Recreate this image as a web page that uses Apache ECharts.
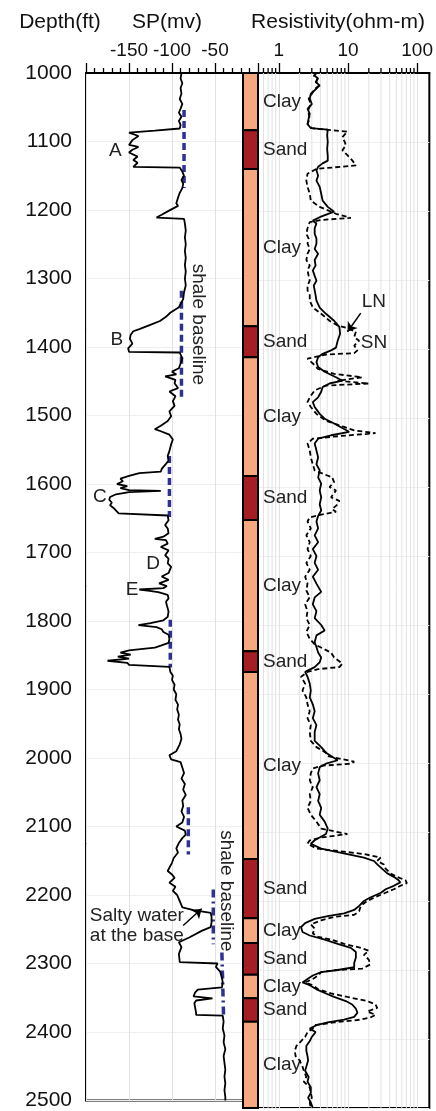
<!DOCTYPE html>
<html>
<head>
<meta charset="utf-8">
<script src="https://cdn.jsdelivr.net/npm/echarts@6/dist/echarts.min.js"></script>
<style>
  html, body { margin: 0; padding: 0; background: #fff; }
  #chart { width: 436px; height: 1111px; }
</style>
</head>
<body>
<div id="chart"></div>
<script>
const FONT = '"Liberation Sans", Arial, Helvetica, sans-serif';

// Depth axis (ft)
const depthMin = 1000, depthMax = 2500, depthStep = 100;
// SP axis (mV)
const spMin = -200, spMax = 0, spStep = 50;
const spTickLabels = [-150, -100, -50];
// Resistivity axis (ohm-m, log)
const resMin = 0.5, resMax = 150;
const resTickLabels = [1, 10, 100];
const resMinorTicks = [0.6, 0.7, 0.8, 0.9, 2, 3, 4, 5, 6, 7, 8, 9, 20, 30, 40, 50, 60, 70, 80, 90];

// Lithology column: [top ft, base ft, rock]
const lithology = [
  [1000, 1083, 'Clay'], [1083, 1139, 'Sand'], [1139, 1367, 'Clay'], [1367, 1412, 'Sand'],
  [1412, 1584, 'Clay'], [1584, 1648, 'Sand'], [1648, 1838, 'Clay'], [1838, 1868, 'Sand'],
  [1868, 2139, 'Clay'], [2139, 2225, 'Sand'], [2225, 2261, 'Clay'], [2261, 2307, 'Sand'],
  [2307, 2341, 'Clay'], [2341, 2375, 'Sand'], [2375, 2500, 'Clay']
];
const rockColors = { Clay: '#F6A87F', Sand: '#A51E23' };

// SP log: [depth ft, mV]
const spLog = [
  [1000,-89],[1008,-90],[1015,-88],[1022,-90],[1030,-89],[1038,-91],[1045,-88],[1052,-90],
  [1058,-92],[1064,-89],[1070,-92],[1076,-90],[1081,-91],[1084,-120],[1087,-150],[1092,-139],
  [1098,-146],[1105,-150],[1108,-139],[1112,-146],[1116,-150],[1122,-140],[1127,-145],[1131,-140],
  [1137,-145],[1138,-91],[1144,-88],[1150,-86],[1156,-89],[1162,-87],[1168,-88],[1175,-91],
  [1182,-93],[1190,-95],[1194,-93],[1202,-105],[1207,-112],[1211,-118],[1213,-86],[1220,-85],
  [1230,-84],[1240,-85],[1250,-84],[1260,-85],[1270,-84],[1280,-85],[1290,-84],[1300,-85],
  [1310,-84],[1320,-86],[1330,-87],[1342,-92],[1350,-102],[1356,-107],[1362,-114],[1368,-126],
  [1374,-138],[1377,-145],[1382,-148],[1388,-149],[1395,-146],[1402,-151],[1407,-150],[1408,-91],
  [1417,-88],[1424,-90],[1431,-92],[1436,-100],[1440,-95],[1443,-108],[1448,-96],[1453,-97],
  [1460,-93],[1465,-103],[1472,-96],[1479,-99],[1486,-97],[1494,-103],[1501,-101],[1508,-105],
  [1515,-113],[1520,-120],[1523,-113],[1528,-103],[1535,-99],[1542,-101],[1552,-103],[1559,-105],
  [1566,-104],[1572,-108],[1578,-112],[1582,-113],[1584,-138],[1588,-150],[1592,-160],[1596,-157],
  [1600,-164],[1603,-152],[1606,-160],[1609,-150],[1610,-113],[1612,-150],[1615,-165],[1619,-172],
  [1623,-173],[1627,-170],[1631,-172],[1635,-168],[1639,-165],[1643,-162],[1645,-162],[1646,-105],
  [1653,-104],[1660,-108],[1665,-105],[1672,-104],[1677,-110],[1680,-120],[1682,-107],[1687,-105],
  [1692,-113],[1697,-104],[1704,-108],[1709,-104],[1716,-105],[1721,-101],[1730,-104],[1735,-112],
  [1740,-104],[1745,-115],[1749,-106],[1752,-110],[1754,-138],[1756,-126],[1758,-116],[1762,-105],
  [1767,-104],[1772,-107],[1777,-106],[1786,-104],[1794,-105],[1799,-110],[1803,-125],[1806,-139],
  [1809,-118],[1812,-112],[1816,-110],[1820,-104],[1826,-103],[1832,-104],[1836,-113],[1839,-120],
  [1841,-118],[1843,-150],[1846,-160],[1849,-148],[1852,-163],[1855,-150],[1858,-175],[1861,-152],
  [1864,-150],[1866,-150],[1867,-103],[1874,-102],[1880,-99],[1886,-100],[1893,-97],[1900,-98],
  [1907,-95],[1915,-96],[1922,-93],[1929,-94],[1937,-92],[1944,-93],[1951,-91],[1958,-92],
  [1965,-90],[1972,-89],[1980,-91],[1990,-95],[1996,-103],[2002,-101],[2006,-90],[2014,-88],
  [2022,-86],[2030,-89],[2038,-85],[2046,-87],[2054,-84],[2062,-88],[2070,-87],[2078,-89],
  [2086,-86],[2094,-88],[2100,-95],[2106,-85],[2112,-84],[2117,-88],[2124,-92],[2132,-95],
  [2138,-93],[2146,-98],[2153,-100],[2160,-103],[2165,-105],[2170,-100],[2175,-97],[2182,-103],
  [2188,-96],[2194,-99],[2200,-94],[2206,-92],[2212,-90],[2218,-88],[2222,-75],[2226,-55],
  [2232,-54],[2240,-54],[2247,-55],[2252,-65],[2262,-80],[2269,-92],[2276,-89],[2286,-92],
  [2298,-91],[2300,-47],[2305,-49],[2312,-44],[2320,-42],[2328,-41],[2335,-42],[2338,-70],
  [2342,-73],[2348,-75],[2351,-53],[2354,-72],[2358,-74],[2365,-73],[2372,-72],[2375,-72],
  [2376,-41],[2385,-40],[2395,-41],[2405,-39],[2415,-40],[2425,-38],[2435,-40],[2445,-39],
  [2455,-38],[2465,-39],[2475,-38],[2485,-39],[2495,-38],[2500,-38]
];

// Long normal resistivity: [depth ft, ohm-m]
const resLN = [
  [1000,3.4],[1004,3.3],[1008,3.7],[1013,3.4],[1018,3.9],[1025,3.3],[1030,2.9],[1037,2.8],
  [1045,3.0],[1052,2.6],[1059,2.8],[1066,2.7],[1074,2.6],[1080,2.9],[1082,5.1],[1090,5.0],
  [1100,5.1],[1110,5.0],[1120,5.1],[1127,5.1],[1131,4.3],[1136,3.7],[1141,3.5],[1149,3.7],
  [1156,3.5],[1165,3.9],[1175,4.1],[1185,4.3],[1194,5.1],[1201,6.3],[1209,3.9],[1214,3.1],
  [1218,3.5],[1225,3.3],[1233,3.3],[1240,3.5],[1247,3.5],[1255,3.3],[1262,3.7],[1271,3.3],
  [1279,3.4],[1286,3.1],[1294,3.3],[1301,3.5],[1308,3.2],[1315,3.3],[1322,3.4],[1330,3.5],
  [1340,3.9],[1349,4.8],[1359,6.3],[1368,7.5],[1378,7.7],[1388,7.1],[1398,6.7],[1402,5.7],
  [1407,4.3],[1412,3.7],[1419,3.5],[1426,3.7],[1433,4.6],[1441,6.7],[1446,8.3],[1450,5.4],
  [1455,4.3],[1462,4.1],[1470,3.7],[1477,3.1],[1484,3.3],[1494,3.9],[1501,4.6],[1508,6.3],
  [1516,8.8],[1520,10.4],[1525,5.7],[1530,3.7],[1537,3.3],[1547,3.5],[1557,3.7],[1567,3.5],
  [1576,3.9],[1586,3.7],[1595,4.1],[1605,3.9],[1615,4.1],[1625,3.9],[1634,4.1],[1642,3.7],
  [1650,3.5],[1660,3.7],[1670,3.3],[1680,3.7],[1690,3.1],[1700,3.5],[1710,3.3],[1720,3.7],
  [1730,3.1],[1740,3.5],[1752,4.1],[1760,3.3],[1770,3.1],[1780,3.5],[1790,3.3],[1800,4.1],
  [1808,4.6],[1815,3.5],[1825,3.3],[1832,3.5],[1840,3.7],[1847,4.1],[1854,3.9],[1861,3.3],
  [1868,2.4],[1875,2.6],[1885,2.8],[1895,2.9],[1905,2.8],[1915,3.1],[1925,3.3],[1935,3.1],
  [1945,3.5],[1955,3.3],[1968,3.3],[1977,4.1],[1985,4.8],[1990,5.7],[1996,7.1],[2001,4.8],
  [2006,3.9],[2015,3.7],[2025,3.9],[2035,3.5],[2045,3.9],[2055,3.7],[2065,4.1],[2075,3.9],
  [2085,4.6],[2095,5.1],[2103,4.8],[2112,3.3],[2117,2.9],[2124,4.1],[2128,6.3],[2132,9.8],
  [2137,17],[2142,23.7],[2147,26.5],[2153,31],[2160,37],[2165,46],[2170,54],[2173,57],
  [2178,46],[2183,35],[2188,30],[2195,21],[2200,17],[2207,14.5],[2213,12.3],[2218,8.8],
  [2222,5.1],[2226,3.3],[2232,2.4],[2238,2.1],[2245,2.2],[2250,2.8],[2256,4.6],[2262,7.1],
  [2268,11],[2274,13],[2282,13],[2290,12.3],[2296,12.3],[2300,7.1],[2303,4.1],[2308,3.1],
  [2313,2.6],[2318,2.2],[2322,2.8],[2328,3.5],[2334,4.8],[2339,6.3],[2345,9.3],[2350,11.5],
  [2356,13],[2362,13.7],[2368,12.3],[2372,8.8],[2376,5.1],[2380,3.5],[2385,2.8],[2390,3.4],
  [2397,3.0],[2403,2.8],[2410,2.5],[2417,2.5],[2425,2.6],[2431,2.65],[2440,2.5],[2446,2.4],
  [2455,2.7],[2462,2.6],[2470,2.9],[2478,2.9],[2485,2.65],[2492,2.9],[2500,3.1]
];

// Short normal resistivity: [depth ft, ohm-m]
const resSN = [
  [1000,3.5],[1004,3.2],[1008,3.6],[1013,3.5],[1018,3.8],[1025,3.2],[1030,3.0],[1037,2.7],
  [1045,2.9],[1052,2.7],[1059,2.7],[1066,2.8],[1074,2.6],[1080,3.0],[1085,9.8],[1093,8.3],
  [1100,9.0],[1105,9.3],[1112,8.3],[1119,9.8],[1127,11.6],[1134,13],[1139,3.5],[1146,2.6],
  [1156,2.5],[1165,2.6],[1175,2.8],[1185,2.9],[1194,3.9],[1204,6.7],[1210,11],[1213,4.1],
  [1216,2.8],[1225,2.6],[1233,2.5],[1240,2.7],[1247,2.6],[1255,2.8],[1262,2.6],[1271,2.5],
  [1279,2.8],[1286,2.6],[1294,2.7],[1301,2.8],[1308,2.6],[1315,2.6],[1322,2.8],[1330,2.8],
  [1340,3.1],[1349,4.1],[1359,5.4],[1366,7.1],[1369,9.3],[1375,13],[1383,12.3],[1388,14.5],
  [1395,12.3],[1402,13.7],[1406,12.3],[1408,4.8],[1414,2.6],[1421,3.1],[1429,3.7],[1436,6.3],
  [1441,16],[1446,7.1],[1450,20],[1453,4.8],[1460,3.3],[1470,2.8],[1477,2.6],[1484,2.9],
  [1494,3.5],[1504,4.8],[1513,8.8],[1518,12.3],[1522,25],[1526,7.9],[1530,3.1],[1537,2.6],
  [1547,2.8],[1557,2.9],[1567,3.1],[1576,3.3],[1586,5.9],[1593,6.3],[1600,5.4],[1605,6.7],
  [1615,5.7],[1620,7.5],[1625,7.1],[1632,5.9],[1636,6.7],[1640,4.1],[1644,2.8],[1650,2.6],
  [1660,2.9],[1670,2.5],[1680,2.8],[1690,2.6],[1700,2.9],[1710,2.5],[1720,2.8],[1730,2.4],
  [1740,2.6],[1750,2.5],[1760,2.8],[1770,2.4],[1780,2.6],[1790,2.5],[1800,2.8],[1810,2.5],
  [1820,2.8],[1828,3.3],[1840,5.7],[1847,6.3],[1856,8.3],[1861,7.5],[1864,3.7],[1868,2.6],
  [1875,2.1],[1885,2.4],[1895,2.2],[1905,2.5],[1915,2.6],[1925,2.8],[1935,2.6],[1945,2.9],
  [1955,2.8],[1968,2.9],[1977,3.5],[1985,4.8],[1990,5.1],[1998,12.3],[2001,11],[2004,4.1],
  [2008,3.1],[2015,2.9],[2025,2.8],[2035,3.1],[2045,2.8],[2055,2.9],[2065,2.6],[2075,2.9],
  [2085,3.5],[2095,4.1],[2103,9.8],[2108,4.1],[2112,2.8],[2117,2.6],[2124,3.5],[2128,7.9],
  [2132,17],[2137,29.6],[2142,26.5],[2147,33],[2153,35],[2160,41],[2165,51],[2170,68],
  [2174,71],[2178,57],[2183,46],[2188,35],[2195,24],[2200,19],[2207,15.3],[2215,14.5],
  [2220,12.3],[2223,6.3],[2228,4.1],[2234,2.9],[2240,3.3],[2247,3.1],[2252,3.7],[2256,5.7],
  [2262,8.8],[2268,15.3],[2272,20],[2278,17],[2285,20],[2292,21],[2298,16],[2300,7.1],
  [2303,4.1],[2308,3.7],[2313,3.1],[2318,2.4],[2322,3.1],[2328,3.7],[2334,5.7],[2339,9.8],
  [2345,19],[2350,25],[2355,26.5],[2360,19],[2365,25],[2369,21],[2372,15],[2376,6.3],
  [2380,3.3],[2385,3.1],[2390,2.6],[2397,2.4],[2403,2.1],[2410,1.8],[2417,1.7],[2425,1.75],
  [2431,2.0],[2440,2.2],[2446,2.3],[2455,2.5],[2462,2.3],[2470,2.8],[2478,2.9],[2485,3.0],
  [2492,2.8],[2500,2.9]
];

// Shale baselines drawn on the SP track: [depth ft, mV]
const baselineA = [[1054, -86], [1168, -86]];
const baselineB = [[1318, -89], [1478, -89]];
const baselineC = [[1559, -103], [1648, -103]];
const baselineD = [[1798, -102], [1868, -102]];
const baselineE = [[2072, -81], [2141, -81]];
const baselineF = [[2192, -52], [2272, -52]];
const baselineG = [[2284, -42], [2378, -40]];

// Text notes on the SP track: [mV, depth ft, text]
const spLetters = [[-166, 1114, 'A'], [-164, 1390, 'B'], [-184, 1619, 'C'], [-122, 1717, 'D'], [-146.5, 1754, 'E']];
const spRotatedNotes = [[-70, 1367, 'shale baseline'], [-37, 2194, 'shale baseline']];
const spLeftNotes = [[-195.5, 2245.5, 'Salty water\nat the base']];
const saltArrow = [[-87, 2244.5], [-65.5, 2220]];
// Text notes on the resistivity track: [ohm-m, depth ft, text]
const resNotes = [[23.7, 1332, 'LN'], [23.7, 1391, 'SN']];
const lnArrow = [[15.3, 1348], [9.84, 1375]];

const BLUE = '#2E3192';
const chart = echarts.init(document.getElementById('chart'), null, { renderer: 'canvas' });

const depthAxisBase = {
  type: 'value', inverse: true, min: depthMin, max: depthMax, interval: depthStep
};

function baselineSeries(pts, dash) {
  return {
    type: 'line', xAxisIndex: 0, yAxisIndex: 0, z: 3,
    data: pts.map(([d, v]) => [v, d]),
    showSymbol: false, symbol: 'none', silent: true,
    lineStyle: { color: BLUE, width: 3.5, type: dash }
  };
}

function textSeries(xi, yi, rows, opts) {
  return {
    type: 'custom', xAxisIndex: xi, yAxisIndex: yi, z: 6, silent: true, clip: false,
    data: rows.map(r => [r[0], r[1]]),
    renderItem(params, api) {
      const p = api.coord([api.value(0), api.value(1)]);
      return {
        type: 'text', x: p[0], y: p[1], rotation: opts.rotation || 0,
        style: {
          text: rows[params.dataIndex][2], fill: '#222',
          font: `${opts.size || 19}px ${FONT}`, lineHeight: opts.lineHeight || 20,
          align: opts.align || 'center', verticalAlign: 'middle'
        }
      };
    }
  };
}

function arrowSeries(xi, yi, pts) {
  return {
    type: 'lines', coordinateSystem: 'cartesian2d', xAxisIndex: xi, yAxisIndex: yi,
    z: 6, silent: true, polyline: false,
    symbol: ['none', 'arrow'], symbolSize: 9,
    lineStyle: { color: '#000', width: 1.5, opacity: 1, curveness: 0 },
    data: [{ coords: pts }]
  };
}

const option = {
  animation: false,
  backgroundColor: '#fff',
  textStyle: { fontFamily: FONT },
  grid: [
    { left: 86, top: 73, width: 172, height: 1035, show: true, borderColor: '#000', borderWidth: 2, backgroundColor: 'transparent' },
    { left: 243, top: 73, width: 15, height: 1035, show: false },
    { left: 258, top: 73, width: 173, height: 1035, show: true, borderColor: '#000', borderWidth: 2, backgroundColor: 'transparent' }
  ],
  xAxis: [
    {
      type: 'value', gridIndex: 0, position: 'top', min: spMin, max: spMax, interval: spStep,
      axisLine: { show: true, lineStyle: { color: '#000', width: 2 } },
      axisTick: { show: true, inside: false, length: 10, lineStyle: { color: '#000', width: 1.3 } },
      minorTick: { show: true, splitNumber: 5, length: 5, lineStyle: { color: '#000', width: 1.3 } },
      axisLabel: {
        color: '#111', fontSize: 19, fontFamily: FONT, margin: 13,
        formatter: v => (spTickLabels.indexOf(v) >= 0 ? String(v) : '')
      },
      splitLine: { show: true, lineStyle: { color: '#e2e2e2', width: 1 } }
    },
    { type: 'value', gridIndex: 1, min: 0, max: 1, show: false },
    {
      type: 'log', logBase: 10, gridIndex: 2, position: 'top', min: resMin, max: resMax,
      axisLine: { show: true, lineStyle: { color: '#000', width: 2 } },
      axisTick: { show: true, inside: false, length: 10, customValues: resTickLabels, lineStyle: { color: '#000', width: 1.3 } },
      axisLabel: {
        color: '#111', fontSize: 19, fontFamily: FONT, margin: 13,
        formatter: v => (resTickLabels.some(t => Math.abs(t - v) < 1e-6 * t) ? String(Math.round(v)) : '')
      },
      splitLine: { show: true, lineStyle: { color: '#e2e2e2', width: 1 } }
    }
  ],
  yAxis: [
    Object.assign({}, depthAxisBase, {
      gridIndex: 0,
      axisLine: { show: true, lineStyle: { color: '#000', width: 2 } },
      axisTick: { show: true, inside: false, length: 10, lineStyle: { color: '#000', width: 1.5 } },
      axisLabel: { color: '#111', fontSize: 21, fontFamily: FONT, margin: 14, formatter: v => String(v) },
      splitLine: { show: true, lineStyle: { color: '#efefef', width: 1 } }
    }),
    Object.assign({}, depthAxisBase, { gridIndex: 1, show: false }),
    Object.assign({}, depthAxisBase, {
      gridIndex: 2,
      axisLine: { show: false }, axisTick: { show: false }, axisLabel: { show: false },
      splitLine: { show: true, lineStyle: { color: '#efefef', width: 1 } }
    })
  ],
  graphic: [
    { type: 'text', x: 60, y: 22, style: { text: 'Depth(ft)', font: `21px ${FONT}`, fill: '#111', align: 'center', verticalAlign: 'middle' } },
    { type: 'text', x: 167, y: 22, style: { text: 'SP(mv)', font: `21px ${FONT}`, fill: '#111', align: 'center', verticalAlign: 'middle' } },
    { type: 'text', x: 338, y: 22, style: { text: 'Resistivity(ohm-m)', font: `21px ${FONT}`, fill: '#111', align: 'center', verticalAlign: 'middle' } }
  ],
  series: [
    // log-decade minor grid lines and ticks on the resistivity track
    {
      type: 'custom', xAxisIndex: 2, yAxisIndex: 2, z: 1, silent: true, clip: false,
      data: resMinorTicks.map(v => [v, depthMin]),
      renderItem(params, api) {
        const v = api.value(0);
        const top = api.coord([v, depthMin]);
        const bot = api.coord([v, depthMax]);
        return {
          type: 'group', children: [
            { type: 'line', shape: { x1: top[0], y1: top[1], x2: bot[0], y2: bot[1] }, style: { stroke: '#e2e2e2', lineWidth: 1 } },
            { type: 'line', shape: { x1: top[0], y1: top[1], x2: top[0], y2: top[1] - 5 }, style: { stroke: '#000', lineWidth: 1.3 } }
          ]
        };
      }
    },
    // lithology column with rock labels
    {
      type: 'custom', xAxisIndex: 1, yAxisIndex: 1, z: 4, silent: true, clip: false,
      data: lithology.map(r => [0, r[0], r[1]]),
      encode: { x: 0, y: [1, 2] },
      renderItem(params, api) {
        const row = lithology[params.dataIndex];
        const tl = api.coord([0, row[0]]);
        const br = api.coord([1, row[1]]);
        return {
          type: 'group', children: [
            { type: 'rect', shape: { x: tl[0], y: tl[1], width: br[0] - tl[0], height: br[1] - tl[1] },
              style: { fill: rockColors[row[2]], stroke: '#000', lineWidth: 2 } },
            { type: 'text', x: br[0] + 5, y: (tl[1] + br[1]) / 2,
              style: { text: row[2], fill: '#222', font: `19px ${FONT}`, align: 'left', verticalAlign: 'middle' } }
          ]
        };
      }
    },
    baselineSeries(baselineA, [7, 4]),
    baselineSeries(baselineB, [7, 4]),
    baselineSeries(baselineC, [7, 4]),
    baselineSeries(baselineD, [7, 4]),
    baselineSeries(baselineE, [7, 4]),
    baselineSeries(baselineF, [8, 4, 2, 4]),
    baselineSeries(baselineG, [8, 4, 2, 4]),
    {
      name: 'SP', type: 'line', xAxisIndex: 0, yAxisIndex: 0, z: 5,
      data: spLog.map(([d, v]) => [v, d]),
      showSymbol: false, symbol: 'none', silent: true,
      lineStyle: { color: '#000', width: 1.8 }
    },
    {
      name: 'LN', type: 'line', xAxisIndex: 2, yAxisIndex: 2, z: 5,
      data: resLN.map(([d, v]) => [v, d]),
      showSymbol: false, symbol: 'none', silent: true,
      lineStyle: { color: '#000', width: 1.8 }
    },
    {
      name: 'SN', type: 'line', xAxisIndex: 2, yAxisIndex: 2, z: 5,
      data: resSN.map(([d, v]) => [v, d]),
      showSymbol: false, symbol: 'none', silent: true,
      lineStyle: { color: '#000', width: 1.8, type: [5, 3] }
    },
    textSeries(0, 0, spLetters, {}),
    textSeries(0, 0, spRotatedNotes, { rotation: -Math.PI / 2 }),
    textSeries(0, 0, spLeftNotes, { align: 'left', lineHeight: 20 }),
    arrowSeries(0, 0, saltArrow),
    textSeries(2, 2, resNotes, {}),
    arrowSeries(2, 2, lnArrow)
  ]
};

chart.setOption(option);
</script>
</body>
</html>
